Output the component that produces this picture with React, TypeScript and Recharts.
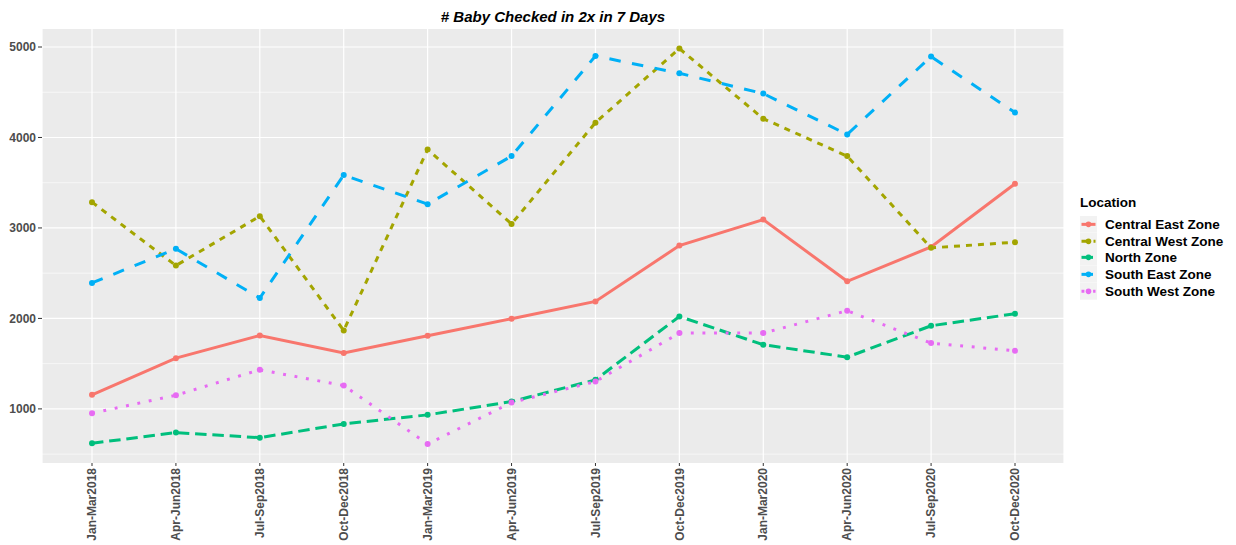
import { LineChart, Line, XAxis, YAxis, CartesianGrid } from "recharts"

const periods = [
  "Jan-Mar2018", "Apr-Jun2018", "Jul-Sep2018", "Oct-Dec2018",
  "Jan-Mar2019", "Apr-Jun2019", "Jul-Sep2019", "Oct-Dec2019",
  "Jan-Mar2020", "Apr-Jun2020", "Jul-Sep2020", "Oct-Dec2020"
]

const centralEast = [1155, 1561, 1812, 1617, 1808, 1997, 2188, 2805, 3093, 2410, 2790, 3488]
const centralWest = [3285, 2584, 3130, 1867, 3868, 3045, 4164, 4983, 4208, 3794, 2780, 2842]
const north = [620, 738, 682, 834, 934, 1081, 1321, 2022, 1709, 1572, 1919, 2052]
const southEast = [2392, 2769, 2226, 3584, 3263, 3794, 4901, 4710, 4485, 4034, 4894, 4275]
const southWest = [952, 1151, 1432, 1258, 612, 1070, 1302, 1838, 1838, 2085, 1727, 1642]

const yTicks = [1000, 2000, 3000, 4000, 5000]
const yMinor = [500, 1500, 2500, 3500, 4500]

const FONT = "'Liberation Sans', Arial, sans-serif"

// ggplot-ish hue palette + linetypes
const series = [
  { key: "ce", name: "Central East Zone", color: "#F8766D", dash: undefined as string | undefined },
  { key: "cw", name: "Central West Zone", color: "#A3A500", dash: "6 6" },
  { key: "n", name: "North Zone", color: "#00BF7D", dash: "11.5 5.8" },
  { key: "se", name: "South East Zone", color: "#00B0F6", dash: "11.5 11.5" },
  { key: "sw", name: "South West Zone", color: "#E76BF3", dash: "2.9 8.7" }
]

const data = periods.map((period, i) => ({
  period,
  ce: centralEast[i],
  cw: centralWest[i],
  n: north[i],
  se: southEast[i],
  sw: southWest[i]
}))

const XTick = ({ x, y, payload }: any) => (
  <g transform={`translate(${x},${y})`}>
    <text
      x={0}
      y={0}
      dy="0.35em"
      textAnchor="end"
      transform="rotate(-90)"
      fill="#4D4D4D"
      fontSize={12}
      fontWeight="bold"
      fontFamily={FONT}
    >
      {payload.value}
    </text>
  </g>
)

// legend key: grey square with a piece of line and a point
const LegendKey = ({ color, dash }: { color: string; dash?: string }) => (
  <svg width={17} height={16.7} style={{ display: "block" }}>
    <rect x={0} y={0} width={17} height={16.7} fill="#F2F2F2" />
    <line x1={1.5} y1={8.35} x2={15.5} y2={8.35} stroke={color} strokeWidth={3} strokeDasharray={dash} />
    <circle cx={8.5} cy={8.35} r={2.8} fill={color} />
  </svg>
)

export default function App() {
  return (
    <div style={{ position: "absolute", left: 0, top: 0, width: 1236, height: 545, background: "#fff", fontFamily: FONT }}>
      <div
        style={{
          position: "absolute",
          left: 0,
          top: 8,
          width: 1106,
          textAlign: "center",
          fontSize: 15,
          lineHeight: "18px",
          fontWeight: "bold",
          fontStyle: "italic",
          color: "#000"
        }}
      >
        # Baby Checked in 2x in 7 Days
      </div>

      <LineChart width={1236} height={545} data={data} margin={{ top: 29, right: 172, bottom: 0, left: 0 }}>
        <CartesianGrid fill="#EBEBEB" stroke="#FFFFFF" strokeWidth={0.6} vertical={false} horizontalValues={yMinor} />
        <CartesianGrid stroke="#FFFFFF" strokeWidth={1.2} horizontalValues={yTicks} />
        <XAxis
          dataKey="period"
          scale="point"
          padding={{ left: 50, right: 49 }}
          interval={0}
          axisLine={false}
          tickLine={{ stroke: "#333333", strokeWidth: 1 }}
          tickSize={3}
          tickMargin={2}
          height={82}
          tick={<XTick />}
        />
        <YAxis
          type="number"
          domain={[402, 5199]}
          ticks={yTicks}
          allowDataOverflow
          width={42}
          axisLine={false}
          tickLine={{ stroke: "#333333", strokeWidth: 1 }}
          tickSize={4}
          tickMargin={2}
          tick={{ fill: "#4D4D4D", fontSize: 12, fontWeight: "bold", fontFamily: FONT }}
        />
        {series.map((s) => (
          <Line
            key={s.key}
            type="linear"
            dataKey={s.key}
            name={s.name}
            stroke={s.color}
            strokeWidth={3}
            strokeDasharray={s.dash}
            dot={{ r: 3, fill: s.color, stroke: "none", strokeDasharray: undefined }}
            activeDot={false}
            isAnimationActive={false}
          />
        ))}
      </LineChart>

      <div style={{ position: "absolute", left: 1080, top: 194 }}>
        <div style={{ fontSize: 13.5, fontWeight: "bold", lineHeight: "17px", color: "#000", marginBottom: 5.1 }}>
          Location
        </div>
        {series.map((s) => (
          <div key={s.key} style={{ display: "flex", alignItems: "center", height: 16.7 }}>
            <LegendKey color={s.color} dash={s.dash} />
            <span style={{ marginLeft: 8, fontSize: 13.5, fontWeight: "bold", color: "#000", whiteSpace: "nowrap" }}>
              {s.name}
            </span>
          </div>
        ))}
      </div>
    </div>
  )
}
